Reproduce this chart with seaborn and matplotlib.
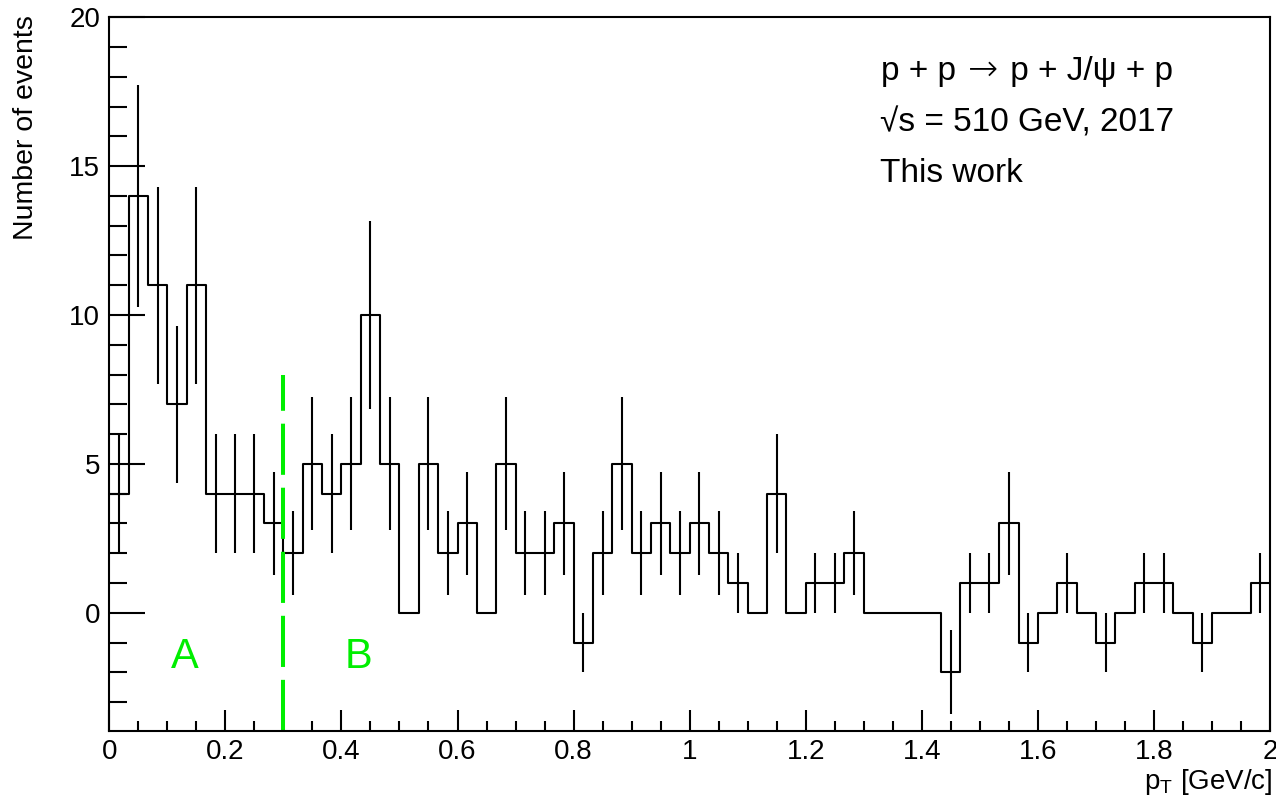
import numpy as np
import pandas as pd
import matplotlib
matplotlib.use("Agg")
import matplotlib.pyplot as plt
from matplotlib.ticker import MultipleLocator, FormatStrFormatter
import seaborn as sns

# pT binning: 60 bins of 1/30 GeV/c between 0 and 2 GeV/c
pt_edges = [i / 30 for i in range(61)]

# background-subtracted event counts per bin
event_counts = [4, 14, 11, 7, 11, 4, 4, 4, 3, 2, 5, 4, 5, 10, 5, 0,
                5, 2, 3, 0, 5, 2, 2, 3, -1, 2, 5, 2, 3, 2, 3, 2, 1, 0, 4, 0,
                1, 1, 2, 0, 0, 0, 0, -2, 1, 1, 3, -1, 0, 1, 0, -1, 0, 1, 1,
                0, -1, 0, 0, 1]

# region split
cut_pt = 0.3
cut_top = 8.0
region_names = ["A", "B"]
region_x = [0.13, 0.43]
region_y = [-1.5, -1.5]

# first info line is drawn in pieces so the arrow can use a thinner, wider glyph
reaction_parts = ["p + p ", "\u2192", " p + J/\u03c8 + p"]
info_lines = ["\u221as = 510 GeV, 2017", "This work"]

x_ticks = [0.0, 0.2, 0.4, 0.6, 0.8, 1.0, 1.2, 1.4, 1.6, 1.8, 2.0]
y_ticks = [0, 5, 10, 15, 20]

edges = np.asarray(pt_edges)
centers = 0.5 * (edges[:-1] + edges[1:])
counts = np.asarray(event_counts, dtype=float)
errors = np.sqrt(np.abs(counts))  # Poisson errors
df = pd.DataFrame({"pt": centers, "n": counts, "err": errors})

sns.set_theme(style="white")
plt.rcParams["font.family"] = ["Liberation Sans", "DejaVu Sans"]
plt.rcParams["mathtext.fontset"] = "custom"
plt.rcParams["mathtext.rm"] = "Liberation Sans"
plt.rcParams["mathtext.it"] = "Liberation Sans:italic"
for key in ["text.color", "axes.labelcolor", "xtick.color", "ytick.color",
            "axes.edgecolor"]:
    plt.rcParams[key] = "black"

W, H = 1276, 799
fig = plt.figure(figsize=(W / 100, H / 100), dpi=100)
x0, x1, y_top, y_bot = 109.3, 1270.0, 17.3, 731.0
ax = fig.add_axes([x0 / W, 1 - y_bot / H, (x1 - x0) / W, (y_bot - y_top) / H])

# histogram outline
sns.histplot(data=df, x="pt", weights="n", bins=pt_edges, element="step",
             fill=False, color="black", linewidth=1.5, ax=ax)

# vertical error bars at bin centres (non-empty bins)
nz = df[df["n"] != 0]
ax.vlines(nz["pt"], nz["n"] - nz["err"], nz["n"] + nz["err"],
          color="black", linewidth=1.5)

ax.set_xlim(0, 2)
ax.set_ylim(-3.97, 20)

# region separator and labels
green = "#00ee00"
ax.plot([cut_pt, cut_pt], [-3.97, cut_top], color=green, linewidth=2.9,
        linestyle=(0, (12.7, 3.2)), solid_capstyle="butt", dash_capstyle="butt")
for name, xr, yr in zip(region_names, region_x, region_y):
    ax.text(xr, yr, name, color=green, fontsize=30, ha="center", va="center")

# axes styling
for sp in ax.spines.values():
    sp.set_linewidth(1.5)
    sp.set_color("black")
ax.set_xticks(x_ticks)
ax.set_yticks(y_ticks)
ax.xaxis.set_major_formatter(FormatStrFormatter("%g"))
ax.xaxis.set_minor_locator(MultipleLocator(0.05))
ax.yaxis.set_minor_locator(MultipleLocator(1))
ax.tick_params(axis="both", which="both", direction="in", top=False,
               right=False, width=1.5, color="black", labelcolor="black",
               labelsize=20, bottom=True, left=True)
ax.tick_params(axis="x", which="major", length=15, pad=6)
ax.tick_params(axis="x", which="minor", length=7.5)
ax.tick_params(axis="y", which="major", length=26, pad=6.5)
ax.tick_params(axis="y", which="minor", length=13)
ax.set_xlabel("")
ax.set_ylabel("")
ax.grid(False)

fig.text(26 / W, 1 - 15 / H, "Number of events", rotation=90, fontsize=20.5,
         ha="center", va="top", color="black")
fig.text(1273 / W, 1 - 789 / H, r"p$_{\mathrm{T}}$ [GeV/c]", fontsize=20,
         ha="right", va="baseline", color="black")

# info block, top right
renderer = fig.canvas.get_renderer()
xpos = 881.0
for part in reaction_parts:
    is_arrow = part == "\u2192"
    fam = ["DejaVu Sans"] if is_arrow else ["Liberation Sans", "DejaVu Sans"]
    t = fig.text(xpos / W, 1 - 80 / H, part, fontsize=26 if is_arrow else 24,
                 ha="left", va="baseline", color="black", family=fam,
                 fontweight=200 if is_arrow else "normal")
    bb = t.get_window_extent(renderer=renderer)
    xpos = bb.x1 + 3
for line, yb in zip(info_lines, [132, 182]):
    fig.text(880 / W, 1 - yb / H, line, fontsize=24, ha="left",
             va="baseline", color="black")

fig.savefig("out.png", dpi=100)
